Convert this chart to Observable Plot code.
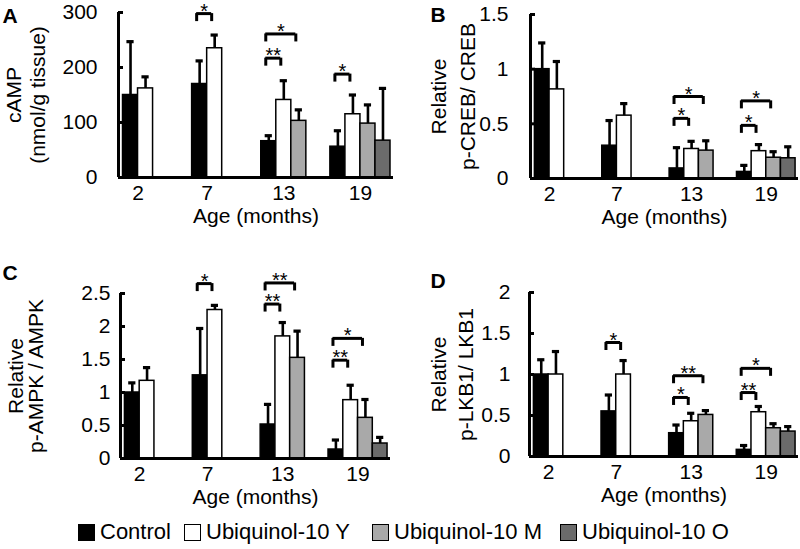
<!DOCTYPE html>
<html><head><meta charset="utf-8">
<script src="https://cdn.jsdelivr.net/npm/d3@7"></script>
<script src="https://cdn.jsdelivr.net/npm/@observablehq/plot@0.6"></script>
<style>
body{margin:0;background:#fff;}
#fig{position:relative;width:800px;height:549px;overflow:hidden;font-family:"Liberation Sans",Arial,sans-serif;}
#fig svg{position:absolute;overflow:visible;}
.lg{position:absolute;top:520px;display:flex;align-items:center;font-size:22px;color:#000;white-space:nowrap;line-height:24px;}
.lg .sw{width:15px;height:15px;border:1.5px solid #000;margin-right:5px;}
</style></head><body><div id="fig"></div>
<script>
// ---------- data ----------
const ages = [2, 7, 13, 19];
const series = ["Control", "Ubiquinol-10 Y", "Ubiquinol-10 M", "Ubiquinol-10 O"];

// A: cAMP (nmol/g tissue)
const campMean = [[150, 162, null, null], [170, 235, null, null], [66, 141, 103, null], [56, 115, 98, 67]];
const campSD   = [[97, 21, null, null], [42, 24, null, null], [10, 35, 20, null], [29, 35, 34, 95]];
const campTicks = [0, 100, 200, 300];
const campSig = [[7, 0, 1, 298, "*"], [13, 0, 2, 261, "*"], [13, 0, 1, 217, "**"], [19, 0, 1, 188, "*"]];

// B: p-CREB / CREB
const crebMean = [[1.0, 0.815, null, null], [0.30, 0.575, null, null], [0.092, 0.27, 0.255, null], [0.06, 0.25, 0.19, 0.185]];
const crebSD   = [[0.24, 0.255, null, null], [0.23, 0.11, null, null], [0.19, 0.07, 0.09, null], [0.06, 0.06, 0.055, 0.105]];
const crebTicks = [0, 0.5, 1, 1.5];
const crebSig = [[13, 0, 2, 0.75, "*"], [13, 0, 1, 0.55, "*"], [19, 0, 2, 0.71, "*"], [19, 0, 1, 0.486, "*"]];

// C: p-AMPK / AMPK
const ampkMean = [[1.0, 1.177, null, null], [1.26, 2.25, null, null], [0.515, 1.85, 1.525, null], [0.136, 0.884, 0.616, 0.227]];
const ampkSD   = [[0.146, 0.2, null, null], [0.71, 0.07, null, null], [0.305, 0.21, 0.405, null], [0.144, 0.226, 0.278, 0.093]];
const ampkTicks = [0, 0.5, 1, 1.5, 2, 2.5];
const ampkSig = [[7, 0, 1, 2.65, "*"], [13, 0, 2, 2.66, "**"], [13, 0, 1, 2.34, "**"], [19, 0, 2, 1.82, "*"], [19, 0, 1, 1.49, "**"]];

// D: p-LKB1 / LKB1
const lkbMean = [[1.0, 1.0, null, null], [0.55, 1.0, null, null], [0.284, 0.43, 0.507, null], [0.081, 0.54, 0.345, 0.304]];
const lkbSD   = [[0.18, 0.28, null, null], [0.2, 0.17, null, null], [0.1, 0.097, 0.053, null], [0.053, 0.07, 0.055, 0.061]];
const lkbTicks = [0, 0.5, 1, 1.5, 2];
const lkbSig = [[7, 0, 1, 1.39, "*"], [13, 0, 2, 0.985, "**"], [13, 0, 1, 0.72, "*"], [19, 0, 2, 1.075, "*"], [19, 0, 1, 0.78, "**"]];

// ---------- style ----------
const colors = ["#000000", "#ffffff", "#a9a9a9", "#6b6b6b"];
const FONT = "'Liberation Sans', Arial, sans-serif";
const G = 4.6;           // group pitch in bar widths
const XMIN = -0.3, XMAX = 18.0;

const fig = document.getElementById("fig");

function panel(cfg) {
  const {mean, sd, ticks, sig, box, frame, letter, ylab, tickPad, ylabDx, letterPos} = cfg;
  const ymax = ticks[ticks.length - 1];
  const plotH = frame.bottom - frame.top;
  const pxPerUnit = (frame.right - frame.left) / (XMAX - XMIN);
  const rows = [];
  ages.forEach((age, gi) => series.forEach((s, si) => {
    const m = mean[gi][si];
    if (m == null) return;
    const x1 = gi * G + si;
    rows.push({age, series: s, mean: m, top: m + sd[gi][si], x1, x2: x1 + 1, xc: x1 + 0.5});
  }));
  const groups = ages.map((age, gi) => ({age, xc: gi * G + mean[gi].filter(v => v != null).length / 2}));
  const br = sig.map(([age, a, b, y, label]) => {
    const gi = ages.indexOf(age);
    return {x1: gi * G + a + 0.3, x2: gi * G + b + 0.3, y, label};
  });
  const legLen = 8 * ymax / plotH;
  const legs = br.flatMap(d => [{x: d.x1, y: d.y}, {x: d.x2, y: d.y}]);
  const capHalf = 3.6 / pxPerUnit;
  const tickLen = 5 / pxPerUnit;

  const svg = Plot.plot({
    width: box.w, height: box.h,
    marginLeft: frame.left - box.x, marginRight: box.x + box.w - frame.right,
    marginTop: frame.top - box.y, marginBottom: box.y + box.h - frame.bottom,
    x: {domain: [XMIN, XMAX], axis: null},
    y: {domain: [0, ymax], axis: null},
    color: {domain: series, range: colors},
    style: {fontFamily: FONT, fontSize: "21px", background: "transparent", overflow: "visible"},
    marks: [
      Plot.rect(rows, {x1: "x1", x2: "x2", y1: 0, y2: "mean", fill: "series", stroke: "#000", strokeWidth: 1.5}),
      Plot.ruleX(rows, {x: "xc", y1: "mean", y2: "top", stroke: "#000", strokeWidth: 2.6}),
      Plot.ruleY(rows, {y: "top", x1: d => d.xc - capHalf, x2: d => d.xc + capHalf, stroke: "#000", strokeWidth: 3.2}),
      // axes
      Plot.ruleY([0], {x1: () => XMIN, x2: () => XMAX, stroke: "#000", strokeWidth: 3}),
      Plot.ruleX([XMIN], {y1: 0, y2: ymax, stroke: "#000", strokeWidth: 3}),
      Plot.ruleY(ticks, {x1: () => XMIN, x2: () => XMIN + tickLen, stroke: "#000", strokeWidth: 3}),
      Plot.text(ticks, {x: () => XMIN, y: d => d, text: d => String(d), textAnchor: "end", dx: -tickPad, fontSize: 21}),
      Plot.text(groups, {x: "xc", y: () => 0, text: d => String(d.age), lineAnchor: "top", dy: 8, fontSize: 21}),
      Plot.text(["Age (months)"], {frameAnchor: "bottom", textAnchor: "middle", lineAnchor: "top", dy: 31, fontSize: 21}),
      Plot.text([ylab[0]], {frameAnchor: "left", textAnchor: "middle", lineAnchor: "middle", rotate: -90, dx: ylabDx[0], fontSize: 21}),
      Plot.text([ylab[1]], {frameAnchor: "left", textAnchor: "middle", lineAnchor: "middle", rotate: -90, dx: ylabDx[1], fontSize: 21}),
      Plot.text([letter], {frameAnchor: "top-left", textAnchor: "start", lineAnchor: "top", dx: letterPos[0] - frame.left, dy: letterPos[1] - frame.top, fontSize: 21, fontWeight: "bold"}),
      // significance brackets
      Plot.ruleY(br, {y: "y", x1: "x1", x2: "x2", stroke: "#000", strokeWidth: 3}),
      Plot.ruleX(legs, {x: "x", y1: "y", y2: d => d.y - legLen, stroke: "#000", strokeWidth: 3}),
      Plot.text(br, {x: d => (d.x1 + d.x2) / 2, y: "y", text: "label", lineAnchor: "bottom", dy: 4, fontSize: 20})
    ]
  });
  svg.style.left = box.x + "px";
  svg.style.top = box.y + "px";
  fig.appendChild(svg);
}

panel({mean: campMean, sd: campSD, ticks: campTicks, sig: campSig,
  box: {x: 0, y: 0, w: 400, h: 260}, frame: {left: 118, right: 393, top: 12, bottom: 177},
  letter: "A", letterPos: [2, 8], ylab: ["cAMP", "(nmol/g tissue)"], tickPad: 21, ylabDx: [-104, -80]});
panel({mean: crebMean, sd: crebSD, ticks: crebTicks, sig: crebSig,
  box: {x: 400, y: 0, w: 400, h: 260}, frame: {left: 530, right: 798, top: 14, bottom: 178},
  letter: "B", letterPos: [430, 7], ylab: ["Relative", "p-CREB/ CREB"], tickPad: 22, ylabDx: [-91, -62]});
panel({mean: ampkMean, sd: ampkSD, ticks: ampkTicks, sig: ampkSig,
  box: {x: 0, y: 260, w: 400, h: 230}, frame: {left: 120, right: 390, top: 293, bottom: 458},
  letter: "C", letterPos: [2, 265], ylab: ["Relative", "p-AMPK / AMPK"], tickPad: 10, ylabDx: [-104, -84]});
panel({mean: lkbMean, sd: lkbSD, ticks: lkbTicks, sig: lkbSig,
  box: {x: 400, y: 260, w: 400, h: 230}, frame: {left: 529, right: 798, top: 292, bottom: 456},
  letter: "D", letterPos: [430, 273], ylab: ["Relative", "p-LKB1/ LKB1"], tickPad: 19, ylabDx: [-90, -63]});

// legend
const legendLeft = [78, 184, 372, 560];
series.forEach((s, i) => {
  const d = document.createElement("div");
  d.className = "lg";
  d.style.left = legendLeft[i] + "px";
  d.innerHTML = `<span class="sw" style="background:${colors[i]}"></span><span>${s}</span>`;
  fig.appendChild(d);
});
</script></body></html>
